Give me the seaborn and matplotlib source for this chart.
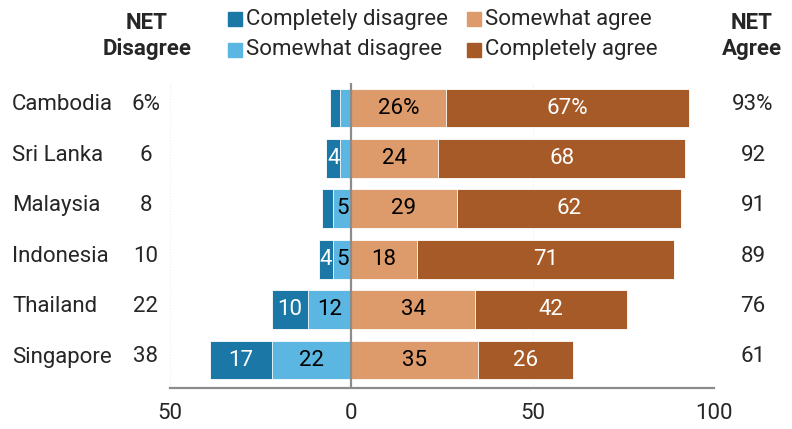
import pandas as pd
import matplotlib.pyplot as plt
import seaborn as sns

# ── DATA ───────────────────────────────────────────────
countries = ['Cambodia', 'Sri Lanka', 'Malaysia', 'Indonesia', 'Thailand', 'Singapore']
completely_disagree = [3, 4, 3, 4, 10, 17]
somewhat_disagree = [3, 3, 5, 5, 12, 22]
somewhat_agree = [26, 24, 29, 18, 34, 35]
completely_agree = [67, 68, 62, 71, 42, 26]
net_disagree = ['6%', '6', '8', '10', '22', '38']
net_agree = ['93%', '92', '91', '89', '76', '61']
first_row_pct = True

df = pd.DataFrame({
    'country': countries,
    'cd': completely_disagree,
    'sd': somewhat_disagree,
    'sa': somewhat_agree,
    'ca': completely_agree,
})
df['dis_total'] = -(df['cd'] + df['sd'])
df['sd_neg'] = -df['sd']
df['agr_total'] = df['sa'] + df['ca']

C_CD = '#1b77a6'
C_SD = '#5cb6e2'
C_SA = '#dd9a6b'
C_CA = '#a65a27'

sns.set_style('white')
plt.rcParams['font.family'] = ['Roboto', 'DejaVu Sans']
FS = 16

fig = plt.figure(figsize=(7.92, 4.29), dpi=100)
ax = fig.add_axes([170 / 792, 1 - 388 / 429, (714 - 170) / 792, (388 - 83) / 429])

# stacked bars via overlap: draw totals first, then inner segments on top
bw = 0.77
for col, colour in [('dis_total', C_CD), ('sd_neg', C_SD), ('agr_total', C_CA), ('sa', C_SA)]:
    sns.barplot(data=df, x=col, y='country', orient='h', color=colour, width=bw,
                saturation=1, edgecolor='white', linewidth=0.6, ax=ax)

ax.set_xlim(-50, 100)
ax.set_ylim(5.555, -0.496)

# segment labels
for i, row in df.iterrows():
    suf = '%' if (first_row_pct and i == 0) else ''
    segs = [
        (-row['sd'] - row['cd'] / 2, row['cd'], 'white'),
        (-row['sd'] / 2, row['sd'], 'black'),
        (row['sa'] / 2, row['sa'], 'black'),
        (row['sa'] + row['ca'] / 2, row['ca'], 'white'),
    ]
    for xc, v, col in segs:
        if v >= 4:
            ax.text(xc, i, f'{v}{suf}', ha='center', va='center', color=col, fontsize=FS)

# zero line and faint grid
ax.axvline(0, color='#8c8c8c', lw=1.6, zorder=5)
for gx in [-50, 50, 100]:
    ax.axvline(gx, color='#eeeeee', lw=0.8, ls=':', zorder=0)

# axes styling
sns.despine(ax=ax, left=True, top=True, right=True)
ax.spines['bottom'].set_color('#8c8c8c')
ax.spines['bottom'].set_linewidth(1.6)
ax.set_xticks([-50, 0, 50, 100])
ax.set_xticklabels(['50', '0', '50', '100'], fontsize=FS)
ax.tick_params(axis='x', length=6, width=1.6, color='#8c8c8c', pad=5)
ax.set_yticks([])
ax.set_xlabel('')
ax.set_ylabel('')

# country names and NET columns (outside axes)
for i, c in enumerate(countries):
    y = 1 - (105 + i * 50.4) / 429
    fig.text(12 / 792, y, c, ha='left', va='center', fontsize=FS)
    fig.text(146 / 792, y, net_disagree[i], ha='center', va='center', fontsize=FS)
    fig.text(753 / 792, y, net_agree[i], ha='center', va='center', fontsize=FS)

fig.text(147 / 792, 1 - 36 / 429, 'NET\nDisagree', ha='center', va='center',
         fontsize=FS, fontweight='bold', linespacing=1.2)
fig.text(752 / 792, 1 - 36 / 429, 'NET\nAgree', ha='center', va='center',
         fontsize=FS, fontweight='bold', linespacing=1.2)

# legend drawn manually
legend_items = [
    (228, 19, C_CD, 'Completely disagree'),
    (228, 50, C_SD, 'Somewhat disagree'),
    (467, 19, C_SA, 'Somewhat agree'),
    (467, 50, C_CA, 'Completely agree'),
]
for lx, ly, col, lab in legend_items:
    fig.patches.append(plt.Rectangle((lx / 792, 1 - (ly + 7) / 429), 14 / 792, 14 / 429,
                                     transform=fig.transFigure, color=col))
    fig.text((lx + 18) / 792, 1 - ly / 429, lab, ha='left', va='center', fontsize=FS)

plt.savefig('out.png', dpi=100)
